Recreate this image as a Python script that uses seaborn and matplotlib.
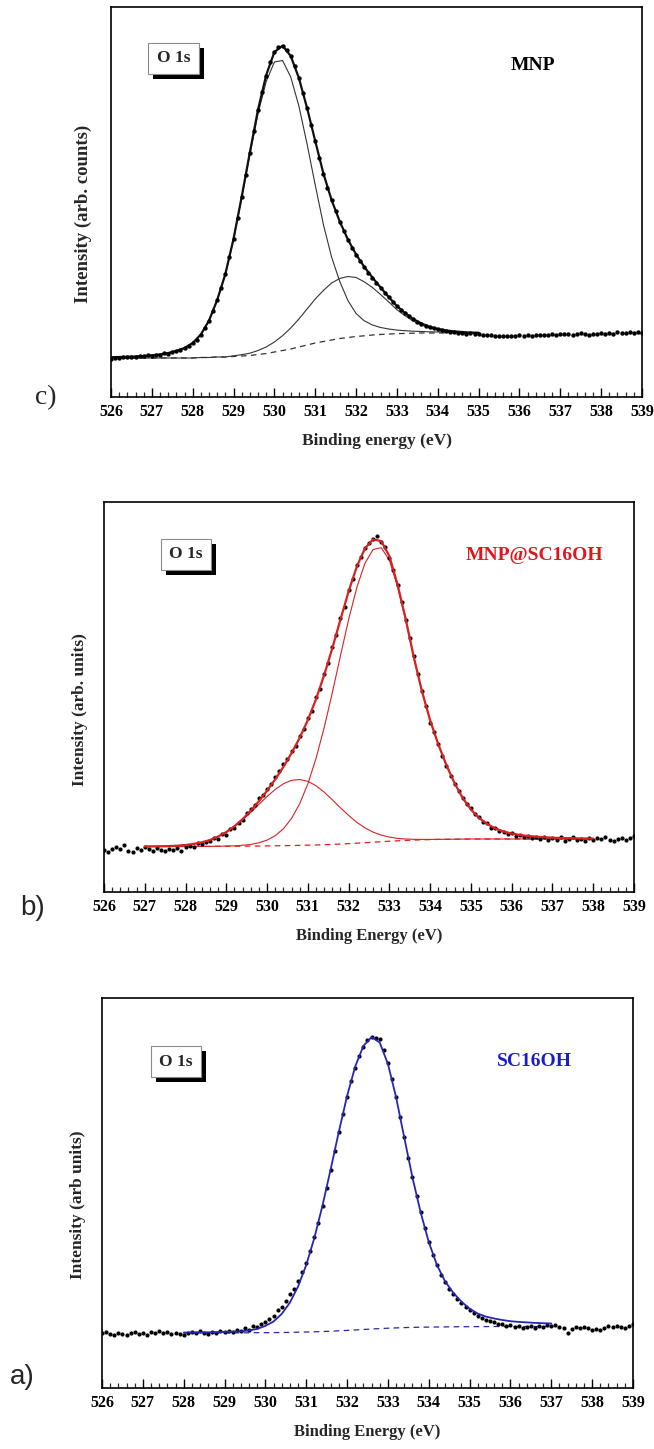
import numpy as np
import matplotlib
matplotlib.use("Agg")
import matplotlib.pyplot as plt
from matplotlib.patches import Rectangle
from matplotlib.ticker import MultipleLocator
import seaborn as sns

# ---------------- data -----------------
# energy grids (eV)
e_dat = np.round(np.arange(526.0, 539.05, 0.1), 1)          # measured points
e_fit_c = np.round(np.arange(526.0, 535.05, 0.2), 1)        # fit grid panel c
e_fit_b = np.round(np.arange(527.0, 538.05, 0.2), 1)        # fit grid panel b
e_fit_a = np.round(np.arange(528.0, 537.05, 0.2), 1)        # fit grid panel a

# ---- panel c : MNP ----
mnp_data = [38.5, 39.5, 38.8, 39.8, 40.5, 39.6, 40.2, 41.0, 40.6, 41.8,
            41.2, 42.5, 42.0, 44.0, 43.5, 45.5, 46.2, 47.0, 49.5, 51.0,
            54.5, 57.5, 62.5, 69.0, 76.0, 86.0, 97.5, 109.5, 123.0, 140.0,
            158.5, 179.0, 200.0, 222.0, 244.0, 266.5, 287.0, 305.0, 321.5, 335.0,
            345.0, 350.5, 351.0, 347.5, 341.0, 331.0, 319.0, 304.5, 289.5, 272.5,
            256.0, 239.5, 223.5, 209.5, 197.0, 186.0, 175.5, 166.0, 157.5, 149.5,
            142.5, 136.0, 130.0, 124.5, 119.5, 114.5, 109.5, 104.5, 100.0, 95.5,
            91.0, 87.0, 84.0, 81.0, 78.0, 75.5, 73.5, 71.5, 70.0, 69.0,
            68.0, 67.0, 66.5, 65.0, 65.5, 64.0, 64.5, 63.5, 64.0, 63.0,
            63.5, 62.5, 62.0, 62.5, 61.5, 61.0, 61.5, 60.8, 61.5, 61.0,
            61.8, 61.2, 62.0, 61.5, 62.3, 62.0, 62.5, 62.0, 63.0, 62.5,
            63.5, 62.8, 63.2, 62.5, 63.5, 64.2, 63.0, 62.5, 63.5, 63.0,
            64.0, 63.2, 64.5, 63.5, 64.8, 63.8, 64.5, 65.0, 64.2, 65.2,
            64.5]
mnp_bg = [39, 39, 39, 39, 39, 39, 39, 39, 39, 39,
          39, 39.5, 39.5, 40, 40, 40.5, 41, 41.5, 42.5, 43.5,
          45, 46.5, 48, 50, 52, 54, 55.5, 57, 58.5, 59.5,
          60.5, 61.2, 62, 62.5, 63, 63.3, 63.6, 63.8, 64, 64,
          64, 64, 64, 64, 64, 64]
mnp_comp1 = [39.8, 40.0, 40.2, 40.5, 41.0, 41.7, 42.6, 44.0, 46.0, 49.0,
             54.0, 62.5, 76.5, 97.0, 123.0, 157.5, 199.0, 242.5, 283.5, 315.5,
             335.0, 336.5, 320.0, 291.0, 253.0, 212.0, 172.5, 140.0, 115.5, 96.5,
             83.5, 76.2, 72.0, 69.5, 68.0, 66.9, 66.3, 65.8, 65.5, 65.2,
             65.0, 64.8, 64.6, 64.5, 64.4, 64.3]
mnp_comp2 = [39, 39, 39, 39, 39, 39, 39, 39, 39, 39,
             39, 39.5, 39.5, 40, 40, 41.2, 42.3, 43.8, 46.5, 50.0,
             55.0, 61.3, 69.0, 78.0, 88.0, 98.0, 106.5, 114.0, 118.5, 120.5,
             119.5, 115.2, 109.5, 102.5, 95.0, 87.3, 81.2, 76.0, 72.0, 69.0,
             67.0, 65.8, 65.0, 64.5, 64.0, 64.0]
mnp_env = [39.8, 40.0, 40.2, 40.5, 41.0, 41.7, 42.6, 44.0, 46.0, 49.0,
           54.0, 62.5, 76.5, 97.0, 123.0, 158.2, 200.3, 244.8, 287.5, 322.0,
           345.0, 351.3, 341.0, 319.0, 289.0, 256.0, 223.5, 197.0, 175.5, 157.5,
           142.5, 130.2, 119.5, 109.5, 100.0, 90.9, 83.9, 78.0, 73.5, 70.2,
           68.0, 66.6, 65.6, 65.0, 64.4, 64.3]

# ---- panel b : MNP@SC16OH ----
mnpsc_data = [42.0, 40.5, 43.5, 45.0, 43.0, 47.0, 41.0, 40.0, 44.5, 42.5,
              45.5, 43.0, 41.5, 44.0, 42.0, 41.0, 43.5, 42.5, 44.0, 41.5,
              45.0, 46.5, 45.5, 49.0, 48.0, 50.5, 51.0, 54.5, 53.0, 58.0,
              57.5, 63.0, 64.0, 69.5, 72.0, 79.0, 83.5, 87.0, 94.0, 97.5,
              103.0, 108.5, 115.0, 121.0, 128.0, 133.0, 141.5, 146.0, 156.0, 163.0,
              174.5, 181.0, 195.0, 203.0, 218.5, 229.0, 245.5, 257.0, 274.0, 285.5,
              302.0, 313.0, 327.5, 335.0, 344.5, 349.0, 353.0, 356.0, 350.5, 345.0,
              334.0, 322.5, 307.0, 290.0, 272.0, 254.5, 236.0, 218.0, 201.5, 186.0,
              169.0, 160.0, 148.5, 136.0, 126.0, 116.5, 108.0, 101.5, 94.5, 88.0,
              84.5, 78.0, 75.5, 70.0, 69.0, 64.5, 64.0, 61.5, 60.5, 58.0,
              59.5, 56.0, 57.5, 55.0, 56.5, 54.0, 55.5, 53.0, 55.0, 52.0,
              54.0, 52.5, 55.0, 51.5, 53.5, 55.0, 52.5, 53.5, 51.0, 54.0,
              52.0, 54.5, 53.5, 55.0, 52.5, 51.5, 53.0, 54.5, 52.0, 54.0,
              56.5]
mnpsc_bg = [45.5, 45.5, 45.5, 45.5, 45.5, 45.5, 45.6, 45.6, 45.6, 45.7,
            45.7, 45.8, 45.8, 45.9, 46.0, 46.1, 46.2, 46.3, 46.5, 46.6,
            46.8, 47.0, 47.3, 47.6, 48.0, 48.4, 48.8, 49.3, 49.8, 50.3,
            50.8, 51.2, 51.6, 51.9, 52.2, 52.4, 52.6, 52.7, 52.8, 52.9,
            53.0, 53.0, 53.0, 53.0, 53.0, 53.0, 53.0, 53.0, 53.0, 53.0,
            53.0, 53.0, 53.0, 53.0, 53.0, 53.0]
mnpsc_comp1 = [45.5, 45.6, 45.7, 45.9, 46.3, 47.0, 48.1, 49.7, 52.0, 55.4,
               59.7, 65.4, 72.0, 79.6, 87.6, 95.5, 102.6, 108.2, 111.7, 112.5,
               110.7, 106.3, 99.9, 92.2, 84.2, 76.6, 69.7, 64.2, 59.9, 56.9,
               54.9, 53.6, 53.0, 52.7, 52.6, 52.6, 52.6, 52.7, 52.8, 52.9,
               53.0, 53.0, 53.0, 53.0, 53.0, 53.0, 53.0, 53.0, 53.0, 53.0,
               53.0, 53.0, 53.0, 53.0, 53.0, 53.0]
mnpsc_comp2 = [45.5, 45.5, 45.5, 45.5, 45.5, 45.5, 45.6, 45.6, 45.6, 45.8,
               45.9, 46.2, 46.7, 47.6, 49.2, 51.9, 56.3, 63.2, 73.6, 88.3,
               108.1, 133.5, 164.3, 199.2, 236.3, 272.4, 304.4, 328.7, 342.5, 344.3,
               331.8, 305.2, 271.6, 233.9, 200.2, 171.4, 147.6, 126.7, 108.8, 93.9,
               82.5, 74.0, 68.0, 63.5, 60.5, 58.5, 57.0, 56.0, 55.3, 54.7,
               54.3, 54.0, 53.8, 53.6, 53.5, 53.4]
mnpsc_env = [45.5, 45.6, 45.7, 45.9, 46.3, 47.0, 48.1, 49.7, 52.0, 55.5,
             59.9, 65.8, 72.9, 81.3, 90.8, 101.3, 112.7, 125.1, 138.8, 154.2,
             172.0, 192.8, 216.9, 243.8, 272.5, 300.6, 325.3, 343.6, 352.6, 350.9,
             335.9, 307.6, 273.0, 234.7, 200.6, 171.6, 147.6, 126.7, 108.8, 93.9,
             82.5, 74.0, 68.0, 63.5, 60.5, 58.5, 57.0, 56.0, 55.3, 54.7,
             54.3, 54.0, 53.8, 53.6, 53.5, 53.4]

# ---- panel a : SC16OH ----
sc_data = [55.5, 56.5, 54.5, 53.0, 55.0, 54.0, 53.5, 55.5, 56.0, 54.5,
           55.5, 53.5, 56.0, 55.0, 57.0, 55.5, 56.5, 54.0, 55.5, 54.5,
           53.5, 55.0, 56.0, 55.0, 57.0, 55.5, 54.5, 56.5, 55.5, 57.0,
           56.0, 57.5, 56.5, 58.0, 57.5, 60.0, 58.5, 62.0, 61.0, 64.5,
           66.0, 69.5, 72.0, 78.0, 81.5, 87.0, 94.0, 99.0, 107.5, 116.0,
           125.5, 137.0, 151.0, 165.5, 182.0, 200.0, 218.5, 237.0, 256.0, 274.0,
           291.0, 307.0, 320.5, 332.5, 341.0, 348.5, 351.0, 350.5, 349.0, 338.0,
           325.0, 309.0, 291.5, 271.0, 251.0, 230.0, 211.0, 192.5, 176.0, 160.0,
           146.5, 133.5, 123.5, 113.0, 106.0, 99.0, 94.5, 89.0, 85.0, 81.5,
           78.0, 75.0, 72.5, 70.0, 68.5, 67.0, 66.0, 64.5, 64.0, 62.5,
           63.0, 61.5, 62.5, 60.5, 61.5, 62.0, 60.5, 62.5, 61.0, 63.0,
           62.0, 63.5, 61.0, 60.0, 55.5, 59.5, 61.0, 60.0, 61.5, 60.0,
           58.5, 59.5, 58.0, 60.5, 62.0, 61.0, 62.5, 61.5, 60.5, 62.0,
           64.5]
sc_bg = [55.0, 55.0, 55.0, 55.0, 55.1, 55.1, 55.1, 55.2, 55.2, 55.3,
         55.3, 55.4, 55.5, 55.6, 55.8, 56.0, 56.2, 56.5, 56.8, 57.2,
         57.6, 58.0, 58.5, 59.0, 59.4, 59.8, 60.1, 60.4, 60.6, 60.8,
         60.9, 61.0, 61.1, 61.2, 61.3, 61.3, 61.4, 61.4, 61.5, 61.5,
         61.5, 61.5, 61.5, 61.5, 61.5, 61.5]
sc_env = [55.5, 55.5, 55.6, 55.7, 55.9, 56.1, 56.3, 56.7, 57.5, 59.1,
          62.1, 66.5, 74.1, 85.4, 101.5, 123.0, 150.2, 182.8, 219.0, 256.6,
          292.0, 321.6, 342.1, 350.9, 345.4, 324.1, 290.8, 250.4, 210.6, 175.8,
          145.9, 123.0, 106.6, 95.2, 86.3, 79.3, 74.4, 71.4, 69.5, 68.0,
          66.8, 66.1, 65.6, 65.1, 64.8, 64.5]

x_ticks = list(range(526, 540))
panel_letters = ["c)", "b)", "a)"]
sample_names = ["MNP", "MNP@SC16OH", "SC16OH"]
y_labels = ["Intensity (arb. counts)", "Intensity (arb. units)", "Intensity (arb units)"]
x_labels = ["Binding energy (eV)", "Binding Energy (eV)", "Binding Energy (eV)"]

# ---------------- figure -----------------
sns.set_style("white")
plt.rcParams["font.family"] = ["Liberation Serif", "DejaVu Serif"]

W, H = 654, 1449
fig = plt.figure(figsize=(W / 100, H / 100), dpi=100)

# axes boxes in pixels (left, top, right, bottom)
boxes = [(111, 7, 642, 397), (104, 502, 634, 892), (102, 998, 633, 1388)]
axes = []
for (l, t, r, b) in boxes:
    ax = fig.add_axes([l / W, 1 - b / H, (r - l) / W, (b - t) / H])
    axes.append(ax)

RED_LINE = "#d82222"
RED_TEXT = "#e0161e"
BLUE_LINE = "#2626b4"
BLUE_TEXT = "#1c1ccf"
DASH = (0, (4.5, 3.5))


def dots(ax, x, y, s=9):
    sns.scatterplot(x=x, y=y, ax=ax, color="black", s=s, linewidth=0,
                    marker="o", zorder=4, legend=False)


def line(ax, x, y, color, lw, ls="-", z=3):
    sns.lineplot(x=x, y=y, ax=ax, color=color, linewidth=lw, linestyle=ls,
                 estimator=None, sort=False, zorder=z, legend=False)


# panel c
ax = axes[0]
line(ax, e_fit_c, mnp_bg, "#333333", 0.9, DASH)
line(ax, e_fit_c, mnp_comp1, "#333333", 0.8)
line(ax, e_fit_c, mnp_comp2, "#333333", 0.8)
line(ax, e_fit_c, mnp_env, "#111111", 1.6)
dots(ax, e_dat, mnp_data, s=10)

# panel b
ax = axes[1]
line(ax, e_fit_b, mnpsc_bg, RED_LINE, 0.9, DASH)
line(ax, e_fit_b, mnpsc_comp1, RED_LINE, 0.8)
line(ax, e_fit_b, mnpsc_comp2, RED_LINE, 0.8)
dots(ax, e_dat, mnpsc_data)
line(ax, e_fit_b, mnpsc_env, RED_LINE, 1.6, z=5)

# panel a
ax = axes[2]
line(ax, e_fit_a, sc_bg, BLUE_LINE, 0.9, DASH)
dots(ax, e_dat, sc_data)
line(ax, e_fit_a, sc_env, BLUE_LINE, 1.3, z=5)

name_colors = ["black", RED_TEXT, BLUE_TEXT]
name_pos = [(533, 65), (534, 556), (534, 1061)]
o1s_boxes = [(148, 43, 199, 74), (161, 539, 211, 570), (151, 1046, 201, 1077)]
ylabel_pos = [(83, 214), (80, 710), (78, 1205)]
ylabel_size = [13.5, 12.5, 12.5]
xlabel_size = [12.5, 12, 12]
letter_pos = [(46, 398), (33, 908), (22, 1377)]
letter_family = [["Liberation Serif"], ["Liberation Sans"], ["Liberation Sans"]]

for i, ax in enumerate(axes):
    l, t, r, b = boxes[i]
    pw, ph = r - l, b - t

    def fx(px):
        return (px - l) / pw

    def fy(py):
        return (b - py) / ph

    ax.set_xlim(526, 539)
    ax.set_ylim(0, 390)
    ax.set_yticks([])
    ax.set_xticks(x_ticks)
    ax.set_xticklabels([str(v) for v in x_ticks])
    ax.xaxis.set_minor_locator(MultipleLocator(0.2))
    ax.tick_params(axis="x", which="major", direction="in", length=6.5, width=1.0,
                   bottom=True, top=False, pad=5, labelsize=11.5, colors="black")
    ax.tick_params(axis="x", which="minor", direction="in", length=3.5, width=0.9,
                   bottom=True, top=False)
    for lab in ax.get_xticklabels():
        lab.set_fontweight("bold")
    for sp in ax.spines.values():
        sp.set_visible(True)
        sp.set_color("black")
        sp.set_linewidth(1.2)

    ax.set_xlabel(x_labels[i], fontsize=xlabel_size[i], fontweight="bold", va="center")
    ax.xaxis.set_label_coords(0.5, fy(b + 44))
    ax.set_ylabel(y_labels[i], fontsize=ylabel_size[i], fontweight="bold", va="center")
    ax.yaxis.set_label_coords(fx(ylabel_pos[i][0]), fy(ylabel_pos[i][1]))

    # O 1s label box with drop shadow
    bx0, by0, bx1, by1 = o1s_boxes[i]
    sh = 5
    ax.add_patch(Rectangle((fx(bx0 + sh), fy(by1 + sh)), fx(bx1 + sh) - fx(bx0 + sh),
                           fy(by0 + sh) - fy(by1 + sh), transform=ax.transAxes,
                           facecolor="black", edgecolor="none", zorder=6))
    ax.add_patch(Rectangle((fx(bx0), fy(by1)), fx(bx1) - fx(bx0), fy(by0) - fy(by1),
                           transform=ax.transAxes, facecolor="white",
                           edgecolor="#8a8a8a", linewidth=0.8, zorder=7))
    ax.text(fx((bx0 + bx1) / 2), fy((by0 + by1) / 2), "O 1s", transform=ax.transAxes,
            ha="center", va="center", fontsize=12.5, fontweight="bold", zorder=8)

    # sample name
    ax.text(fx(name_pos[i][0]), fy(name_pos[i][1]), sample_names[i], transform=ax.transAxes,
            ha="center", va="center", fontsize=14, fontweight="bold",
            color=name_colors[i], zorder=8)

    # panel letter
    fig.text(letter_pos[i][0] / W, 1 - letter_pos[i][1] / H, panel_letters[i],
             ha="center", va="center", fontsize=20, family=letter_family[i])

fig.savefig("out.png", dpi=100)
